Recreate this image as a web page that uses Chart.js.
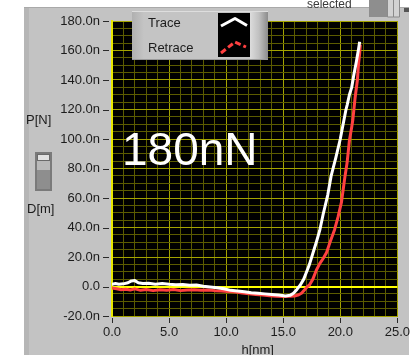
<!DOCTYPE html>
<html>
<head>
<meta charset="utf-8">
<script src="https://cdn.jsdelivr.net/npm/chart.js@4.4.1/dist/chart.umd.min.js"></script>
<style>
  html, body { margin: 0; padding: 0; background: #fff; }
  canvas { display: block; }
</style>
</head>
<body>
<canvas id="myChart" width="419" height="355"></canvas>
<script>
// indentation depth h [nm] and load P [nN]
const hTrace = [0.0, 0.3, 0.6, 1.0, 1.4, 1.7, 2.0, 2.3, 2.7, 3.2, 3.8, 4.4, 5.0, 5.6, 6.2, 6.8, 7.4, 8.0, 8.6, 9.2,
	9.8, 10.4, 11.0, 11.6, 12.2, 12.8, 13.4, 14.0, 14.6, 15.2, 15.6, 15.9, 16.2, 16.5, 16.8, 17.0, 17.3, 17.6, 17.9,
	18.2, 18.5, 18.9, 19.2, 19.6, 20.0, 20.3, 20.5, 20.6, 20.8, 21.0, 21.2, 21.4, 21.6, 21.7];
const pTrace = [1.5, 2.0, 1.5, 1.8, 2.5, 3.8, 4.0, 2.6, 2.0, 2.2, 1.6, 2.0, 1.5, 1.2, 1.4, 0.8, 1.0, 0.2, -0.3, -0.8,
	-1.5, -2.6, -3.0, -3.5, -4.2, -4.6, -5.0, -5.4, -5.8, -6.4, -6.0, -4.6, -2.0, 1.0, 5.0, 9.0, 15.0, 22.5, 30.0,
	38.0, 49.0, 62.0, 75.0, 87.0, 100.0, 112.0, 120.0, 123.0, 130.0, 135.0, 144.0, 152.0, 161.0, 166.0];

const hRetrace = [0.0, 0.4, 0.8, 1.2, 1.6, 2.0, 2.5, 3.0, 3.6, 4.2, 4.8, 5.4, 6.0, 6.6, 7.2, 7.8, 8.4, 9.0, 9.6, 10.2,
	10.8, 11.4, 12.0, 12.6, 13.2, 13.8, 14.4, 15.0, 15.6, 16.0, 16.3, 16.6, 16.9, 17.1, 17.3, 17.6, 17.9, 18.2, 18.5,
	18.8, 19.1, 19.5, 19.8, 20.1, 20.4, 20.6, 20.8, 21.0, 21.1, 21.3, 21.5, 21.6, 21.7, 21.75];
const pRetrace = [-1.0, -1.5, -2.2, -1.8, -2.4, -1.6, -2.6, -2.0, -2.8, -2.2, -2.6, -2.0, -2.8, -2.4, -2.2, -2.6, -2.4, -2.8, -3.0, -3.4,
	-3.8, -4.4, -5.0, -5.4, -5.8, -6.2, -6.6, -6.8, -6.6, -6.4, -5.8, -4.6, -2.0, -0.2, 1.0, 5.0, 11.0, 15.5, 19.0,
	23.0, 30.0, 38.5, 47.0, 57.0, 74.0, 84.0, 99.0, 108.0, 113.0, 128.0, 140.0, 151.0, 158.0, 164.0];

const hLabels = ['0.0', '5.0', '10.0', '15.0', '20.0', '25.0'];
const pLabels = ['-20.0n', '0.0', '20.0n', '40.0n', '60.0n', '80.0n', '100.0n', '120.0n', '140.0n', '160.0n', '180.0n'];

const seriesNames = ['Trace', 'Retrace'];

const MAJOR = '#a3a300';
const MINOR = '#5c5c00';
const ZERO = '#ffff00';

Chart.defaults.font.family = "'Liberation Sans', Arial, sans-serif";
Chart.defaults.font.size = 13;
Chart.defaults.color = '#1c1c1c';

function toPoints(xs, ys) {
	return xs.map((x, i) => ({ x: x, y: ys[i] }));
}

// gray front panel, black plot area, tick marks, labels and legend box
const panel = {
	id: 'panel',
	beforeDraw(chart) {
		const c = chart.ctx;
		const a = chart.chartArea;
		c.save();
		c.fillStyle = '#ffffff';
		c.fillRect(0, 0, chart.width, chart.height);
		c.fillStyle = '#c3c3c3';
		c.fillRect(24, 7, 385, 348);
		c.fillStyle = '#b6b6b6';
		c.fillRect(24, 7, 5, 348);
		c.fillStyle = '#a9a9a9';
		c.fillRect(24, 7, 385, 1);
		c.fillStyle = '#000';
		c.fillRect(a.left, a.top, a.right - a.left, a.bottom - a.top);
		c.restore();
	},
	afterDraw(chart) {
		const c = chart.ctx;
		const a = chart.chartArea;
		const xs = chart.scales.x;
		const ys = chart.scales.y;
		c.save();

		// tick marks sit a little off the plot edge
		c.strokeStyle = '#2a2a2a';
		c.lineWidth = 1;
		for (let v = -20; v <= 180; v += 20) {
			const y = Math.round(ys.getPixelForValue(v)) + 0.5;
			c.beginPath();
			c.moveTo(a.left - 9, y);
			c.lineTo(a.left - 3, y);
			c.stroke();
		}
		for (let v = 0; v <= 25; v += 5) {
			const x = Math.round(xs.getPixelForValue(v)) + 0.5;
			c.beginPath();
			c.moveTo(x, a.bottom + 2);
			c.lineTo(x, a.bottom + 7);
			c.stroke();
		}

		// axis names
		c.fillStyle = '#1c1c1c';
		c.font = "13px 'Liberation Sans', Arial, sans-serif";
		c.textBaseline = 'middle';
		c.textAlign = 'left';
		c.fillText('P[N]', 26, 120);
		c.fillText('D[m]', 27, 209);
		c.textAlign = 'center';
		c.fillText('h[nm]', (a.left + a.right) / 2 + 3, 350);

		// little slider between the axis names
		c.fillStyle = '#7a7a7a';
		c.fillRect(35, 152, 17, 39);
		c.fillStyle = '#8e8e8e';
		c.fillRect(37, 170, 13, 19);
		c.fillStyle = '#b9b9b9';
		c.fillRect(37, 160, 13, 10);
		c.fillStyle = '#e2e2e2';
		c.fillRect(37, 154, 13, 6);
		c.strokeStyle = '#6a6a6a';
		c.strokeRect(37.5, 154.5, 12, 6);

		// large annotation
		c.fillStyle = '#ffffff';
		c.font = "46px 'Liberation Sans', Arial, sans-serif";
		c.textAlign = 'left';
		c.textBaseline = 'alphabetic';
		c.fillText('180nN', 122, 165);

		// legend box
		const lx = 132, ly = 11, lw = 136, lh = 49;
		c.fillStyle = '#c4c4c4';
		c.fillRect(lx, ly, lw, lh);
		let g = c.createLinearGradient(lx, 0, lx + 12, 0);
		g.addColorStop(0, '#b0b0b0');
		g.addColorStop(1, '#c4c4c4');
		c.fillStyle = g;
		c.fillRect(lx, ly, 12, lh);
		g = c.createLinearGradient(250, 0, lx + lw, 0);
		g.addColorStop(0, '#dcdcdc');
		g.addColorStop(0.5, '#c0c0c0');
		g.addColorStop(1, '#8c8c8c');
		c.fillStyle = g;
		c.fillRect(250, ly, lx + lw - 250, lh);
		c.fillStyle = '#9a9a9a';
		c.fillRect(lx, ly + lh - 1, lw, 1);
		c.fillStyle = '#dedede';
		c.fillRect(lx, ly, lw, 1);

		c.fillStyle = '#1c1c1c';
		c.font = "13px 'Liberation Sans', Arial, sans-serif";
		c.textBaseline = 'middle';
		c.fillText(seriesNames[0], 148, 23);
		c.fillText(seriesNames[1], 148, 48);

		c.fillStyle = '#000';
		c.fillRect(218, 13, 32, 44);
		c.lineWidth = 3;
		c.lineJoin = 'round';
		c.strokeStyle = '#ffffff';
		c.beginPath();
		c.moveTo(221, 26);
		c.lineTo(235, 18.5);
		c.lineTo(247, 25.5);
		c.stroke();
		c.strokeStyle = '#ff4040';
		c.setLineDash([6, 3]);
		c.beginPath();
		c.moveTo(221, 53);
		c.lineTo(235, 42);
		c.lineTo(246, 47);
		c.stroke();
		c.setLineDash([]);

		// "selected" switch in the top corner
		c.fillStyle = '#3a3a3a';
		c.font = "12px 'Liberation Sans', Arial, sans-serif";
		c.textBaseline = 'alphabetic';
		c.fillText('selected', 307, 8);
		c.fillStyle = '#8e8e8e';
		c.fillRect(369, 0, 18, 17);
		c.fillStyle = '#d2d2d2';
		c.fillRect(388, 0, 5, 17);
		c.fillRect(394, 0, 5, 17);
		c.strokeStyle = '#8a8a8a';
		c.lineWidth = 1;
		c.strokeRect(387.5, -1, 6, 18);
		c.strokeRect(393.5, -1, 6, 18);
		c.fillStyle = '#555';
		c.fillRect(404, 8, 5, 4);

		c.restore();
	},
};

const ctx = document.getElementById('myChart');
const myChart = new Chart(ctx, {
	type: 'line',
	data: {
		datasets: [
			{
				label: seriesNames[0],
				data: toPoints(hTrace, pTrace),
				borderColor: '#ffffff',
				borderWidth: 3,
				pointRadius: 0,
				borderJoinStyle: 'round',
			},
			{
				label: seriesNames[1],
				data: toPoints(hRetrace, pRetrace),
				borderColor: '#ff4040',
				borderWidth: 3,
				pointRadius: 0,
				borderJoinStyle: 'round',
			},
		],
	},
	options: {
		responsive: false,
		animation: false,
		events: [],
		layout: { padding: { top: 21, right: 21, left: 0, bottom: 0 } },
		plugins: {
			legend: { display: false },
			tooltip: { enabled: false },
		},
		scales: {
			x: {
				type: 'linear',
				min: 0,
				max: 25,
				afterFit: (scale) => { scale.height = 39; },
				ticks: {
					stepSize: 1,
					autoSkip: false,
					maxRotation: 0,
					padding: 9,
					callback: (v) => (v % 5 === 0 ? hLabels[v / 5] : ''),
				},
				grid: {
					drawTicks: false,
					color: (c) => (c.tick.value % 5 === 0 ? MAJOR : MINOR),
				},
				border: { color: MAJOR },
			},
			y: {
				min: -20,
				max: 180,
				afterFit: (scale) => { scale.width = 112; },
				ticks: {
					stepSize: 5,
					autoSkip: false,
					padding: 12,
					callback: (v) => (v % 20 === 0 ? pLabels[(v + 20) / 20] : ''),
				},
				grid: {
					drawTicks: false,
					color: (c) => (c.tick.value === 0 ? ZERO : c.tick.value % 20 === 0 ? MAJOR : MINOR),
					lineWidth: (c) => (c.tick.value === 0 ? 2 : 1),
				},
				border: { color: '#e8e800', width: 2 },
			},
		},
	},
	plugins: [panel],
});
</script>
</body>
</html>
